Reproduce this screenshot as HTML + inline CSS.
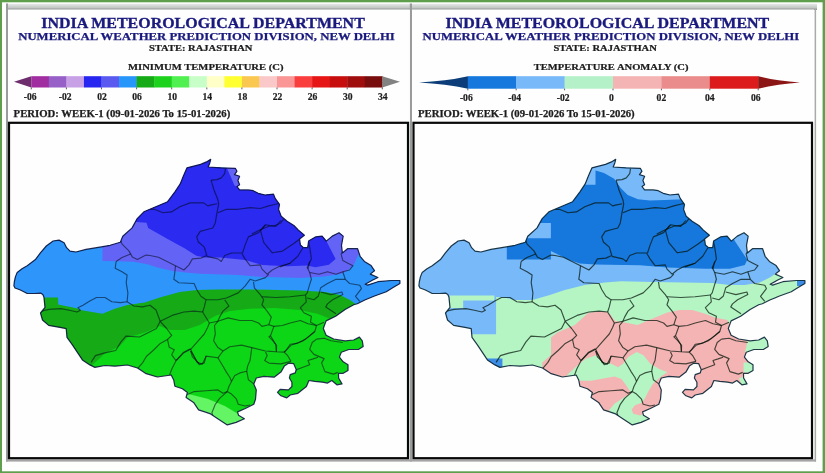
<!DOCTYPE html>
<html><head><meta charset="utf-8"><title>IMD Rajasthan</title>
<style>
html,body{margin:0;padding:0;background:#fff;}
body{width:825px;height:473px;overflow:hidden;font-family:"Liberation Serif",serif;}
svg{display:block;}
text{font-family:"Liberation Serif",serif;font-weight:bold;}
.t1{font-size:13.6px;fill:#1a1a7e;stroke:#1a1a7e;stroke-width:0.3px;}
.t2{font-size:10.6px;fill:#1a1a7e;stroke:#1a1a7e;stroke-width:0.25px;}
.t3{font-size:9.1px;fill:#1c1c1c;stroke:#1c1c1c;stroke-width:0.22px;}
.t4{font-size:9.7px;fill:#1c1c1c;stroke:#1c1c1c;stroke-width:0.25px;}
.lab{font-size:9.6px;fill:#1c1c1c;stroke:#1c1c1c;stroke-width:0.2px;}
</style></head><body>
<svg width="825" height="473" viewBox="0 0 825 473">
<defs>
<clipPath id="st"><path d="M210.7,159.3 L209.9,162.7 L208.2,167.0 L220.9,167.8 L235.3,168.3 L237.0,171.2 L234.5,174.6 L239.6,176.3 L237.9,180.5 L239.6,184.8 L237.0,186.5 L239.6,189.9 L248.1,189.9 L253.2,190.7 L258.2,193.3 L265.0,195.0 L273.5,194.1 L275.2,198.4 L279.5,204.3 L278.6,209.4 L281.2,216.2 L287.1,221.3 L293.9,225.5 L298.4,230.1 L304.4,235.2 L299.6,239.0 L300.4,245.0 L303.5,247.6 L307.7,247.6 L308.6,241.1 L315.4,236.9 L322.1,236.1 L326.3,241.1 L332.3,236.1 L339.0,232.7 L343.2,236.1 L341.5,245.4 L342.4,253.0 L347.5,248.7 L357.6,248.7 L360.1,256.3 L364.4,261.4 L371.1,265.6 L374.5,270.7 L370.3,274.1 L377.9,277.5 L372.8,280.0 L365.2,284.2 L367.7,285.1 L377.9,281.7 L391.4,280.5 L399.9,280.5 L399.9,283.4 L393.1,287.6 L386.3,291.8 L374.5,296.0 L364.8,300.0 L357.3,303.7 L353.7,304.8 L345.1,309.5 L335.6,316.2 L326.1,320.9 L323.3,328.5 L326.1,335.2 L333.7,339.0 L345.1,340.9 L353.7,340.0 L359.4,337.1 L362.3,340.9 L363.2,346.6 L358.4,349.5 L348.9,349.5 L341.3,352.3 L339.4,357.1 L343.2,361.8 L348.0,364.7 L348.0,370.4 L343.2,373.3 L338.5,373.3 L338.6,378.0 L342.0,383.9 L336.9,384.8 L331.8,380.5 L327.6,383.1 L322.5,382.2 L314.8,381.4 L308.9,380.5 L306.4,386.5 L297.9,393.3 L290.2,395.0 L286.8,397.9 L280.9,395.8 L277.5,392.4 L280.1,389.4 L288.5,389.9 L291.9,386.5 L291.9,382.2 L289.4,378.0 L290.2,374.6 L295.3,372.9 L296.2,369.5 L293.6,363.6 L288.5,363.2 L284.3,366.1 L280.9,372.1 L274.1,377.2 L263.9,376.3 L256.3,378.0 L253.8,383.9 L256.3,389.9 L255.5,399.2 L253.8,404.3 L245.3,408.5 L237.6,411.9 L238.5,415.3 L244.4,418.7 L236.1,422.4 L227.3,424.9 L217.4,418.6 L209.9,413.6 L198.6,409.9 L193.6,402.4 L186.1,397.4 L187.4,392.4 L182.4,388.7 L174.9,386.2 L173.7,380.0 L171.2,375.0 L157.4,377.0 L146.2,373.7 L137.5,368.0 L127.5,365.0 L115.0,366.2 L104.9,365.5 L94.9,367.4 L89.9,364.9 L82.4,359.9 L77.4,352.4 L72.4,344.9 L67.0,337.4 L66.2,328.6 L60.0,327.4 L48.7,325.4 L42.5,320.0 L40.5,313.0 L45.0,307.4 L43.9,296.9 L42.8,294.6 L40.6,293.1 L34.6,293.5 L27.2,293.5 L24.3,292.0 L19.8,289.8 L15.0,288.0 L13.9,285.7 L14.3,282.0 L15.4,276.9 L17.2,272.4 L22.0,268.7 L27.2,265.7 L35.4,259.6 L40.4,252.8 L46.3,246.0 L53.1,241.0 L59.0,240.1 L64.1,242.7 L66.6,247.7 L70.0,251.1 L75.9,252.0 L86.0,249.4 L101.3,246.9 L110.1,245.3 L120.3,242.2 L122.8,236.3 L132.1,227.9 L137.2,218.6 L143.9,211.8 L155.8,206.8 L167.6,201.7 L175.1,191.6 L180.2,183.9 L183.6,175.5 L187.0,167.8 L200.5,164.4 L206.5,161.9 Z"/></clipPath>
<filter id="bl" x="-5%" y="-5%" width="110%" height="110%"><feGaussianBlur stdDeviation="0.45"/></filter>
<linearGradient id="tg" x1="0" y1="0" x2="0" y2="1"><stop offset="0" stop-color="#e4e8e6"/><stop offset="0.6" stop-color="#c4c9c7"/><stop offset="1" stop-color="#8a8d8c"/></linearGradient>
</defs>
<!-- frame -->
<rect x="0" y="0" width="825" height="473" fill="#5f9e4c"/>
<rect x="2" y="2.3" width="820.6" height="469" fill="#fcfffc"/>
<rect x="6" y="3.8" width="811" height="6.2" fill="url(#tg)"/>
<rect x="6" y="3.5" width="2" height="458" fill="#9a9c9b"/>
<rect x="409.8" y="3.5" width="2.2" height="458" fill="#9a9c9b"/>
<rect x="814.6" y="9" width="1.5" height="452.5" fill="#a9aaa9"/>
<rect x="6" y="459.4" width="810" height="2.2" fill="#a4a4a4"/>
<rect x="8" y="9.5" width="401.8" height="112" fill="#fefefe"/>
<rect x="412" y="9.5" width="402" height="112" fill="#fefefe"/>
<!-- map frames -->
<rect x="9" y="122.8" width="399" height="335.4" fill="#fefefe" stroke="#080808" stroke-width="2.2"/>
<rect x="413.5" y="122.8" width="398.5" height="335.4" fill="#fefefe" stroke="#080808" stroke-width="2.2"/>
<g filter="url(#bl)">
<!-- left map -->
<g>
<g clip-path="url(#st)">
<rect x="0" y="140" width="412" height="300" fill="#10d614"/>
<polygon points="0.0,150.0 410.0,150.0 410.0,322.0 340.0,322.0 330.0,318.7 317.4,313.7 300.0,310.0 275.0,308.0 250.0,308.7 230.0,311.0 215.0,316.0 199.8,324.9 184.8,329.9 169.8,329.9 159.8,326.0 144.8,332.4 127.4,337.4 119.9,346.0 104.9,353.6 92.4,364.9 85.0,375.0 0.0,375.0" fill="#14aa14"/>
<polygon points="0.0,150.0 410.0,150.0 410.0,305.0 357.0,305.0 350.0,300.0 340.0,295.0 325.0,292.0 300.0,290.4 250.0,289.4 216.0,289.4 197.3,290.0 179.8,292.0 159.8,297.4 144.8,302.4 127.4,305.0 114.9,308.7 102.4,313.7 80.0,310.0 77.6,308.6 58.2,304.4 58.0,297.6 45.5,297.6 0.0,297.5" fill="#2d96fa"/>
<polygon points="102.4,150.0 102.4,261.0 116.9,261.2 133.8,261.7 147.3,264.2 157.5,267.6 172.7,271.0 187.9,272.7 200.0,273.7 237.5,275.0 262.4,277.0 300.0,278.0 323.8,276.6 340.7,274.1 347.5,270.7 354.2,264.0 357.6,256.3 362.0,250.0 410.0,250.0 410.0,150.0" fill="#6464f5"/>
<polygon points="130.0,150.0 130.0,222.0 136.3,222.0 146.5,222.8 148.2,227.9 167.6,238.9 184.5,248.2 196.3,255.8 204.8,257.5 220.0,257.5 245.0,260.0 262.4,265.0 287.4,266.2 306.9,265.6 315.4,267.3 328.9,264.8 335.6,258.9 331.0,250.0 326.3,241.1 324.0,232.0 324.0,150.0" fill="#2a2af0"/>
<polygon points="226.0,166.0 241.0,166.0 241.0,188.0 234.5,185.6" fill="#6464f5"/>
<polygon points="180.0,393.0 187.4,393.7 207.4,398.7 224.8,406.0 237.3,413.6 248.0,418.0 248.0,430.0 180.0,430.0" fill="#64f564"/>
<polyline fill="none" stroke="#000814" stroke-opacity="0.55" stroke-width="1.15" stroke-linejoin="round" points="225.5,168.6 224.7,173.7 221.3,177.9 217.0,179.6 211.1,180.1"/>
<polyline fill="none" stroke="#000814" stroke-opacity="0.55" stroke-width="1.15" stroke-linejoin="round" points="150.0,209.3 154.4,209.3 162.9,212.7 171.4,211.9 179.8,206.8 190.0,202.9 203.6,202.9 207.7,205.9 210.4,205.1 217.2,203.8"/>
<polyline fill="none" stroke="#000814" stroke-opacity="0.55" stroke-width="1.15" stroke-linejoin="round" points="211.1,180.1 214.0,190.0 218.0,200.0 218.7,204.2 217.0,212.7 215.3,222.9 212.8,228.0 206.0,229.7 200.2,231.4 196.7,236.9 198.4,242.0 204.3,247.1 206.8,255.5 200.9,258.1 192.4,258.9 189.0,264.9 183.9,270.0 175.5,265.7 167.0,261.5 158.5,257.2 150.0,255.5 145.9,255.1 137.4,259.4 132.3,256.9 128.9,250.9 122.1,244.1 120.5,239.9"/>
<polyline fill="none" stroke="#000814" stroke-opacity="0.55" stroke-width="1.15" stroke-linejoin="round" points="217.9,212.7 226.4,209.3 238.2,209.3 250.1,207.6 260.3,208.5 268.8,205.9 275.6,204.2 279.0,203.4"/>
<polyline fill="none" stroke="#000814" stroke-opacity="0.55" stroke-width="1.15" stroke-linejoin="round" points="251.8,233.9 260.3,229.7 268.8,226.3 275.6,225.4 280.7,222.9 284.0,218.6"/>
<polyline fill="none" stroke="#000814" stroke-opacity="0.55" stroke-width="1.15" stroke-linejoin="round" points="206.8,256.4 217.9,258.9 221.3,261.5 224.7,255.5 231.5,253.0 241.6,253.0 245.0,258.9 250.1,265.7 260.3,264.9 262.0,269.1 267.1,274.2 272.2,270.0 279.0,266.6 290.0,263.2 297.8,256.2 302.9,247.7"/>
<polyline fill="none" stroke="#000814" stroke-opacity="0.55" stroke-width="1.15" stroke-linejoin="round" points="242.5,253.0 245.0,245.4 248.4,236.9 258.6,232.6 263.7,226.7 265.5,224.8"/>
<polyline fill="none" stroke="#000814" stroke-opacity="0.55" stroke-width="1.15" stroke-linejoin="round" points="280.8,220.5 275.7,226.5 265.5,224.8 260.5,230.7 263.8,242.6 272.3,252.8 282.5,251.1 292.7,244.3 299.5,239.2"/>
<polyline fill="none" stroke="#000814" stroke-opacity="0.55" stroke-width="1.15" stroke-linejoin="round" points="175.5,265.7 174.6,274.2 173.8,279.3 178.8,282.7 194.1,283.5 196.7,289.5 200.9,296.3 206.0,299.7 204.3,306.9 202.6,312.0"/>
<polyline fill="none" stroke="#000814" stroke-opacity="0.55" stroke-width="1.15" stroke-linejoin="round" points="206.0,299.7 217.9,299.7 226.4,298.0 238.2,292.9 245.0,286.1 250.1,279.3 255.2,281.0 265.4,277.6 268.8,274.2"/>
<polyline fill="none" stroke="#000814" stroke-opacity="0.55" stroke-width="1.15" stroke-linejoin="round" points="253.5,281.8 254.4,287.8 260.3,294.6 263.7,299.7 262.0,304.8 267.1,311.1 271.3,317.1 268.8,324.7"/>
<polyline fill="none" stroke="#000814" stroke-opacity="0.55" stroke-width="1.15" stroke-linejoin="round" points="262.0,296.7 275.6,297.5 290.0,296.7 305.5,295.0"/>
<polyline fill="none" stroke="#000814" stroke-opacity="0.55" stroke-width="1.15" stroke-linejoin="round" points="224.7,299.7 228.9,306.0 223.0,311.1 219.6,317.1 217.9,321.3"/>
<polyline fill="none" stroke="#000814" stroke-opacity="0.55" stroke-width="1.15" stroke-linejoin="round" points="116.1,261.5 115.2,268.3 122.0,271.7 127.1,275.1 126.2,282.7 127.9,292.9 127.1,301.8"/>
<polyline fill="none" stroke="#000814" stroke-opacity="0.55" stroke-width="1.15" stroke-linejoin="round" points="130.6,254.0 122.0,257.5 116.1,261.5"/>
<polyline fill="none" stroke="#000814" stroke-opacity="0.55" stroke-width="1.15" stroke-linejoin="round" points="41.4,311.1 49.0,309.4 60.9,308.6 69.4,310.3 77.0,312.0 80.4,310.3 77.9,307.7 83.0,305.2 89.8,300.9 96.5,297.5 105.0,297.5 111.8,301.8 120.3,302.6 127.1,301.8 133.9,306.0 142.4,306.9 150.0,305.2 156.0,310.0 160.2,321.3"/>
<polyline fill="none" stroke="#000814" stroke-opacity="0.55" stroke-width="1.15" stroke-linejoin="round" points="160.2,321.3 156.5,328.5 148.0,332.7 139.5,337.0 125.9,336.1 120.8,342.1 115.7,350.5 103.8,353.1 95.4,355.6 91.1,362.4"/>
<polyline fill="none" stroke="#000814" stroke-opacity="0.55" stroke-width="1.15" stroke-linejoin="round" points="160.2,321.3 172.1,315.4 183.9,312.0 194.1,311.1 202.6,312.0 209.4,323.0 217.9,321.3"/>
<polyline fill="none" stroke="#000814" stroke-opacity="0.55" stroke-width="1.15" stroke-linejoin="round" points="209.4,323.0 207.7,327.2 204.3,334.0 197.5,341.7 190.7,349.3 183.9,352.7 177.2,359.5 176.0,360.7 171.7,369.2 169.2,376.0"/>
<polyline fill="none" stroke="#000814" stroke-opacity="0.55" stroke-width="1.15" stroke-linejoin="round" points="160.2,321.3 166.6,328.5 171.7,335.3 167.5,339.5 169.2,347.2 174.3,349.7 171.7,354.8 176.0,360.7"/>
<polyline fill="none" stroke="#000814" stroke-opacity="0.55" stroke-width="1.15" stroke-linejoin="round" points="167.5,339.5 159.8,343.8 153.1,350.5 146.3,356.5 142.9,362.4 137.8,368.4"/>
<polyline fill="none" stroke="#000814" stroke-opacity="0.55" stroke-width="1.15" stroke-linejoin="round" points="217.9,321.3 214.5,325.5 215.3,334.0 213.6,340.8 217.9,347.6 223.0,351.0 229.8,346.8 241.6,345.1 251.8,347.6 265.4,351.0 275.6,351.8 284.2,352.1 287.6,355.5 291.0,361.4"/>
<polyline fill="none" stroke="#000814" stroke-opacity="0.55" stroke-width="1.15" stroke-linejoin="round" points="223.0,351.0 217.9,357.8 206.0,356.1 204.3,362.9 199.2,364.6 195.8,359.5 190.7,351.0"/>
<polyline fill="none" stroke="#000814" stroke-opacity="0.55" stroke-width="1.15" stroke-linejoin="round" points="217.9,357.8 223.0,366.3 226.4,372.1 229.8,377.2 231.5,381.4 228.9,386.5 227.2,391.6 231.5,394.1 236.5,399.2 238.2,404.3 245.0,406.0 250.0,405.0"/>
<polyline fill="none" stroke="#000814" stroke-opacity="0.55" stroke-width="1.15" stroke-linejoin="round" points="217.9,321.3 228.1,317.9 239.9,320.5 251.8,320.5 258.6,323.0 262.0,326.4 268.8,324.7 273.9,326.4 282.4,325.5 290.2,323.0 300.4,320.5 308.0,323.8 316.5,325.5 324.1,322.2"/>
<polyline fill="none" stroke="#000814" stroke-opacity="0.55" stroke-width="1.15" stroke-linejoin="round" points="273.9,326.4 270.5,335.7 275.6,344.2 276.4,351.8"/>
<polyline fill="none" stroke="#000814" stroke-opacity="0.55" stroke-width="1.15" stroke-linejoin="round" points="308.0,239.4 309.7,247.1 311.4,258.9 307.2,267.4 309.7,272.5 311.4,279.3 309.7,284.4 307.2,292.9 305.5,295.0 306.3,301.8 300.4,307.7 303.8,312.8 311.4,316.2 310.5,322.2 316.5,325.5"/>
<polyline fill="none" stroke="#000814" stroke-opacity="0.55" stroke-width="1.15" stroke-linejoin="round" points="309.7,272.5 319.0,274.2 327.5,271.7 336.0,274.2 342.8,271.7 349.6,270.0 353.0,265.7 347.9,263.2 342.8,260.6 341.1,253.8 343.6,250.5"/>
<polyline fill="none" stroke="#000814" stroke-opacity="0.55" stroke-width="1.15" stroke-linejoin="round" points="342.8,271.7 345.3,279.3 349.6,283.5 359.8,285.2 361.4,288.6 355.5,296.3 359.8,301.4"/>
<polyline fill="none" stroke="#000814" stroke-opacity="0.55" stroke-width="1.15" stroke-linejoin="round" points="345.3,279.3 336.0,279.3 327.5,283.5 320.7,287.8 318.2,296.3 313.9,299.7 307.2,298.0"/>
<polyline fill="none" stroke="#000814" stroke-opacity="0.55" stroke-width="1.15" stroke-linejoin="round" points="320.7,292.0 330.9,294.6 341.9,292.0 342.8,294.6 332.6,299.7 327.5,303.9 325.8,306.9 336.0,313.7"/>
<polyline fill="none" stroke="#000814" stroke-opacity="0.55" stroke-width="1.15" stroke-linejoin="round" points="316.5,325.5 314.8,331.5 305.5,339.1 297.0,343.4 290.2,344.2 286.8,349.3 284.2,352.1"/>
<polyline fill="none" stroke="#000814" stroke-opacity="0.55" stroke-width="1.15" stroke-linejoin="round" points="316.5,339.1 312.2,342.5 309.7,349.3 313.9,354.4 324.1,358.6 321.6,362.9 324.9,371.6 333.4,374.1 337.7,372.4"/>
<polyline fill="none" stroke="#000814" stroke-opacity="0.55" stroke-width="1.15" stroke-linejoin="round" points="316.5,339.1 324.1,338.3 330.9,340.8 342.8,342.5"/>
<polyline fill="none" stroke="#000814" stroke-opacity="0.55" stroke-width="1.15" stroke-linejoin="round" points="318.1,357.2 313.1,358.9 308.0,360.5 309.7,364.8 302.9,367.3 296.1,369.9"/>
<polyline fill="none" stroke="#000814" stroke-opacity="0.55" stroke-width="1.15" stroke-linejoin="round" points="291.0,361.4 280.8,363.9 268.9,363.1 264.7,360.5 267.2,355.5 265.5,352.1"/>
<polyline fill="none" stroke="#000814" stroke-opacity="0.55" stroke-width="1.15" stroke-linejoin="round" points="276.4,351.8 276.6,345.3 272.3,340.2 268.9,336.8 270.5,335.7"/>
<polyline fill="none" stroke="#000814" stroke-opacity="0.55" stroke-width="1.15" stroke-linejoin="round" points="284.2,352.1 291.0,345.3 302.9,341.0 309.7,335.9 314.8,331.5"/>
<polyline fill="none" stroke="#000814" stroke-opacity="0.55" stroke-width="1.15" stroke-linejoin="round" points="190.7,351.0 192.4,356.8 199.2,363.6"/>
<polyline fill="none" stroke="#000814" stroke-opacity="0.55" stroke-width="1.15" stroke-linejoin="round" points="231.5,381.4 234.8,375.5 239.9,372.9 246.7,371.2 247.6,366.1 250.1,360.2 251.8,347.6"/>
<polyline fill="none" stroke="#000814" stroke-opacity="0.55" stroke-width="1.15" stroke-linejoin="round" points="246.7,371.2 248.4,379.7 253.8,383.9"/>
<polyline fill="none" stroke="#000814" stroke-opacity="0.55" stroke-width="1.15" stroke-linejoin="round" points="186.5,395.0 194.1,391.6 206.0,390.7 217.9,389.9 223.0,393.3 227.2,391.6"/>
<polyline fill="none" stroke="#000814" stroke-opacity="0.55" stroke-width="1.15" stroke-linejoin="round" points="227.2,391.6 219.6,398.4 215.3,404.3 211.9,412.8 213.0,416.0"/>
<polyline fill="none" stroke="#000814" stroke-opacity="0.55" stroke-width="1.15" stroke-linejoin="round" points="176.0,360.7 183.6,352.2 190.4,348.8"/>
<polyline fill="none" stroke="#000814" stroke-opacity="0.55" stroke-width="1.15" stroke-linejoin="round" points="190.4,349.0 197.2,362.4 202.3,364.1 205.7,357.3 206.0,356.1"/>
<polyline fill="none" stroke="#000814" stroke-opacity="0.55" stroke-width="1.15" stroke-linejoin="round" points="280.0,267.0 290.2,263.2"/>
<polyline fill="none" stroke="#000814" stroke-opacity="0.55" stroke-width="1.15" stroke-linejoin="round" points="308.0,245.4 303.8,247.1"/>
<polyline fill="none" stroke="#000814" stroke-opacity="0.55" stroke-width="1.15" stroke-linejoin="round" points="309.7,261.3 308.0,268.9"/>
</g>
<path d="M210.7,159.3 L209.9,162.7 L208.2,167.0 L220.9,167.8 L235.3,168.3 L237.0,171.2 L234.5,174.6 L239.6,176.3 L237.9,180.5 L239.6,184.8 L237.0,186.5 L239.6,189.9 L248.1,189.9 L253.2,190.7 L258.2,193.3 L265.0,195.0 L273.5,194.1 L275.2,198.4 L279.5,204.3 L278.6,209.4 L281.2,216.2 L287.1,221.3 L293.9,225.5 L298.4,230.1 L304.4,235.2 L299.6,239.0 L300.4,245.0 L303.5,247.6 L307.7,247.6 L308.6,241.1 L315.4,236.9 L322.1,236.1 L326.3,241.1 L332.3,236.1 L339.0,232.7 L343.2,236.1 L341.5,245.4 L342.4,253.0 L347.5,248.7 L357.6,248.7 L360.1,256.3 L364.4,261.4 L371.1,265.6 L374.5,270.7 L370.3,274.1 L377.9,277.5 L372.8,280.0 L365.2,284.2 L367.7,285.1 L377.9,281.7 L391.4,280.5 L399.9,280.5 L399.9,283.4 L393.1,287.6 L386.3,291.8 L374.5,296.0 L364.8,300.0 L357.3,303.7 L353.7,304.8 L345.1,309.5 L335.6,316.2 L326.1,320.9 L323.3,328.5 L326.1,335.2 L333.7,339.0 L345.1,340.9 L353.7,340.0 L359.4,337.1 L362.3,340.9 L363.2,346.6 L358.4,349.5 L348.9,349.5 L341.3,352.3 L339.4,357.1 L343.2,361.8 L348.0,364.7 L348.0,370.4 L343.2,373.3 L338.5,373.3 L338.6,378.0 L342.0,383.9 L336.9,384.8 L331.8,380.5 L327.6,383.1 L322.5,382.2 L314.8,381.4 L308.9,380.5 L306.4,386.5 L297.9,393.3 L290.2,395.0 L286.8,397.9 L280.9,395.8 L277.5,392.4 L280.1,389.4 L288.5,389.9 L291.9,386.5 L291.9,382.2 L289.4,378.0 L290.2,374.6 L295.3,372.9 L296.2,369.5 L293.6,363.6 L288.5,363.2 L284.3,366.1 L280.9,372.1 L274.1,377.2 L263.9,376.3 L256.3,378.0 L253.8,383.9 L256.3,389.9 L255.5,399.2 L253.8,404.3 L245.3,408.5 L237.6,411.9 L238.5,415.3 L244.4,418.7 L236.1,422.4 L227.3,424.9 L217.4,418.6 L209.9,413.6 L198.6,409.9 L193.6,402.4 L186.1,397.4 L187.4,392.4 L182.4,388.7 L174.9,386.2 L173.7,380.0 L171.2,375.0 L157.4,377.0 L146.2,373.7 L137.5,368.0 L127.5,365.0 L115.0,366.2 L104.9,365.5 L94.9,367.4 L89.9,364.9 L82.4,359.9 L77.4,352.4 L72.4,344.9 L67.0,337.4 L66.2,328.6 L60.0,327.4 L48.7,325.4 L42.5,320.0 L40.5,313.0 L45.0,307.4 L43.9,296.9 L42.8,294.6 L40.6,293.1 L34.6,293.5 L27.2,293.5 L24.3,292.0 L19.8,289.8 L15.0,288.0 L13.9,285.7 L14.3,282.0 L15.4,276.9 L17.2,272.4 L22.0,268.7 L27.2,265.7 L35.4,259.6 L40.4,252.8 L46.3,246.0 L53.1,241.0 L59.0,240.1 L64.1,242.7 L66.6,247.7 L70.0,251.1 L75.9,252.0 L86.0,249.4 L101.3,246.9 L110.1,245.3 L120.3,242.2 L122.8,236.3 L132.1,227.9 L137.2,218.6 L143.9,211.8 L155.8,206.8 L167.6,201.7 L175.1,191.6 L180.2,183.9 L183.6,175.5 L187.0,167.8 L200.5,164.4 L206.5,161.9 Z" fill="none" stroke="#0a0c40" stroke-opacity="0.85" stroke-width="1.2" stroke-linejoin="round"/>
</g>
<!-- right map -->
<g transform="translate(405 0)">
<g clip-path="url(#st)">
<rect x="0" y="140" width="412" height="300" fill="#b4f5c3"/>
<polygon points="137.3,440.0 137.3,362.4 146.0,354.9 146.0,337.4 152.3,332.4 169.8,324.9 182.3,313.7 184.8,312.4 199.8,311.2 205.0,314.0 210.0,321.0 220.0,322.4 232.5,324.9 250.0,317.4 262.4,312.4 274.9,310.0 287.4,310.0 299.9,313.7 309.9,317.4 322.3,319.9 324.8,325.0 335.0,325.0 342.3,342.4 340.0,352.0 352.0,358.0 352.0,440.0" fill="#f5b4b4"/>
<polygon points="163.0,373.9 172.3,365.5 180.8,358.7 191.0,355.3 197.8,362.1 206.3,363.8 213.1,367.2 218.1,363.8 223.2,357.0 231.7,351.9 238.5,355.3 245.3,363.8 253.8,368.8 262.3,372.2 257.2,375.6 252.1,379.9 247.8,384.1 243.6,390.9 240.2,397.7 236.8,402.8 230.0,405.3 226.6,409.6 228.3,413.8 235.1,415.5 240.2,413.0 248.0,416.0 248.0,430.0 200.0,430.0 204.6,409.6 209.7,403.6 214.8,400.2 219.8,396.8 226.6,393.5 224.9,390.9 221.5,385.8 216.5,379.0 209.7,376.5 199.5,378.2 185.9,380.7 174.0,380.7 160.0,378.0" fill="#b4f5c3"/>
<polygon points="338.6,362.4 350.0,362.4 350.0,372.4 338.6,372.4" fill="#b4f5c3"/>
<polygon points="334.0,378.0 345.0,376.0 345.0,388.0 337.0,386.0" fill="#b4f5c3"/>
<polygon points="0.0,150.0 410.0,150.0 410.0,272.0 372.3,272.5 364.8,277.5 354.8,282.5 339.8,285.0 324.8,285.0 307.4,283.0 250.0,282.0 216.0,281.2 199.8,282.5 179.8,285.0 159.8,290.0 144.8,295.0 127.4,300.0 109.9,300.0 101.3,297.9 91.1,297.0 91.1,334.2 0.0,334.2" fill="#78b9fa"/>
<polygon points="44.6,295.4 89.4,295.4 89.4,300.4 58.2,300.4 58.2,308.0 44.6,308.0" fill="#b4f5c3"/>
<polygon points="101.8,150.0 101.8,259.4 145.9,259.4 145.9,250.9 162.9,259.4 174.8,263.6 190.0,264.5 235.0,265.3 262.4,267.5 299.9,268.7 324.8,268.7 339.8,265.0 342.3,259.8 329.8,241.0 325.0,232.0 325.0,150.0" fill="#1478dc"/>
<polygon points="160.0,184.8 190.5,184.8 190.5,170.4 199.0,172.9 209.1,178.8 215.9,188.2 222.7,195.0 232.9,199.2 244.8,200.6 260.0,200.0 271.9,199.5 285.0,199.0 285.0,150.0 160.0,150.0" fill="#78b9fa"/>
<polygon points="120.0,222.9 145.9,222.9 145.9,238.2 120.0,238.2" fill="#78b9fa"/>
<polygon points="81.0,358.6 97.4,358.6 97.4,368.0 81.0,368.0" fill="#3c8ce6"/>
<polygon points="392.0,278.0 402.0,278.0 402.0,286.0 392.0,286.0" fill="#3c8ce6"/>
<polyline fill="none" stroke="#04140a" stroke-opacity="0.72" stroke-width="1.15" stroke-linejoin="round" points="225.5,168.6 224.7,173.7 221.3,177.9 217.0,179.6 211.1,180.1"/>
<polyline fill="none" stroke="#04140a" stroke-opacity="0.72" stroke-width="1.15" stroke-linejoin="round" points="150.0,209.3 154.4,209.3 162.9,212.7 171.4,211.9 179.8,206.8 190.0,202.9 203.6,202.9 207.7,205.9 210.4,205.1 217.2,203.8"/>
<polyline fill="none" stroke="#04140a" stroke-opacity="0.72" stroke-width="1.15" stroke-linejoin="round" points="211.1,180.1 214.0,190.0 218.0,200.0 218.7,204.2 217.0,212.7 215.3,222.9 212.8,228.0 206.0,229.7 200.2,231.4 196.7,236.9 198.4,242.0 204.3,247.1 206.8,255.5 200.9,258.1 192.4,258.9 189.0,264.9 183.9,270.0 175.5,265.7 167.0,261.5 158.5,257.2 150.0,255.5 145.9,255.1 137.4,259.4 132.3,256.9 128.9,250.9 122.1,244.1 120.5,239.9"/>
<polyline fill="none" stroke="#04140a" stroke-opacity="0.72" stroke-width="1.15" stroke-linejoin="round" points="217.9,212.7 226.4,209.3 238.2,209.3 250.1,207.6 260.3,208.5 268.8,205.9 275.6,204.2 279.0,203.4"/>
<polyline fill="none" stroke="#04140a" stroke-opacity="0.72" stroke-width="1.15" stroke-linejoin="round" points="251.8,233.9 260.3,229.7 268.8,226.3 275.6,225.4 280.7,222.9 284.0,218.6"/>
<polyline fill="none" stroke="#04140a" stroke-opacity="0.72" stroke-width="1.15" stroke-linejoin="round" points="206.8,256.4 217.9,258.9 221.3,261.5 224.7,255.5 231.5,253.0 241.6,253.0 245.0,258.9 250.1,265.7 260.3,264.9 262.0,269.1 267.1,274.2 272.2,270.0 279.0,266.6 290.0,263.2 297.8,256.2 302.9,247.7"/>
<polyline fill="none" stroke="#04140a" stroke-opacity="0.72" stroke-width="1.15" stroke-linejoin="round" points="242.5,253.0 245.0,245.4 248.4,236.9 258.6,232.6 263.7,226.7 265.5,224.8"/>
<polyline fill="none" stroke="#04140a" stroke-opacity="0.72" stroke-width="1.15" stroke-linejoin="round" points="280.8,220.5 275.7,226.5 265.5,224.8 260.5,230.7 263.8,242.6 272.3,252.8 282.5,251.1 292.7,244.3 299.5,239.2"/>
<polyline fill="none" stroke="#04140a" stroke-opacity="0.72" stroke-width="1.15" stroke-linejoin="round" points="175.5,265.7 174.6,274.2 173.8,279.3 178.8,282.7 194.1,283.5 196.7,289.5 200.9,296.3 206.0,299.7 204.3,306.9 202.6,312.0"/>
<polyline fill="none" stroke="#04140a" stroke-opacity="0.72" stroke-width="1.15" stroke-linejoin="round" points="206.0,299.7 217.9,299.7 226.4,298.0 238.2,292.9 245.0,286.1 250.1,279.3 255.2,281.0 265.4,277.6 268.8,274.2"/>
<polyline fill="none" stroke="#04140a" stroke-opacity="0.72" stroke-width="1.15" stroke-linejoin="round" points="253.5,281.8 254.4,287.8 260.3,294.6 263.7,299.7 262.0,304.8 267.1,311.1 271.3,317.1 268.8,324.7"/>
<polyline fill="none" stroke="#04140a" stroke-opacity="0.72" stroke-width="1.15" stroke-linejoin="round" points="262.0,296.7 275.6,297.5 290.0,296.7 305.5,295.0"/>
<polyline fill="none" stroke="#04140a" stroke-opacity="0.72" stroke-width="1.15" stroke-linejoin="round" points="224.7,299.7 228.9,306.0 223.0,311.1 219.6,317.1 217.9,321.3"/>
<polyline fill="none" stroke="#04140a" stroke-opacity="0.72" stroke-width="1.15" stroke-linejoin="round" points="116.1,261.5 115.2,268.3 122.0,271.7 127.1,275.1 126.2,282.7 127.9,292.9 127.1,301.8"/>
<polyline fill="none" stroke="#04140a" stroke-opacity="0.72" stroke-width="1.15" stroke-linejoin="round" points="130.6,254.0 122.0,257.5 116.1,261.5"/>
<polyline fill="none" stroke="#04140a" stroke-opacity="0.72" stroke-width="1.15" stroke-linejoin="round" points="41.4,311.1 49.0,309.4 60.9,308.6 69.4,310.3 77.0,312.0 80.4,310.3 77.9,307.7 83.0,305.2 89.8,300.9 96.5,297.5 105.0,297.5 111.8,301.8 120.3,302.6 127.1,301.8 133.9,306.0 142.4,306.9 150.0,305.2 156.0,310.0 160.2,321.3"/>
<polyline fill="none" stroke="#04140a" stroke-opacity="0.72" stroke-width="1.15" stroke-linejoin="round" points="160.2,321.3 156.5,328.5 148.0,332.7 139.5,337.0 125.9,336.1 120.8,342.1 115.7,350.5 103.8,353.1 95.4,355.6 91.1,362.4"/>
<polyline fill="none" stroke="#04140a" stroke-opacity="0.72" stroke-width="1.15" stroke-linejoin="round" points="160.2,321.3 172.1,315.4 183.9,312.0 194.1,311.1 202.6,312.0 209.4,323.0 217.9,321.3"/>
<polyline fill="none" stroke="#04140a" stroke-opacity="0.72" stroke-width="1.15" stroke-linejoin="round" points="209.4,323.0 207.7,327.2 204.3,334.0 197.5,341.7 190.7,349.3 183.9,352.7 177.2,359.5 176.0,360.7 171.7,369.2 169.2,376.0"/>
<polyline fill="none" stroke="#04140a" stroke-opacity="0.72" stroke-width="1.15" stroke-linejoin="round" points="160.2,321.3 166.6,328.5 171.7,335.3 167.5,339.5 169.2,347.2 174.3,349.7 171.7,354.8 176.0,360.7"/>
<polyline fill="none" stroke="#04140a" stroke-opacity="0.72" stroke-width="1.15" stroke-linejoin="round" points="167.5,339.5 159.8,343.8 153.1,350.5 146.3,356.5 142.9,362.4 137.8,368.4"/>
<polyline fill="none" stroke="#04140a" stroke-opacity="0.72" stroke-width="1.15" stroke-linejoin="round" points="217.9,321.3 214.5,325.5 215.3,334.0 213.6,340.8 217.9,347.6 223.0,351.0 229.8,346.8 241.6,345.1 251.8,347.6 265.4,351.0 275.6,351.8 284.2,352.1 287.6,355.5 291.0,361.4"/>
<polyline fill="none" stroke="#04140a" stroke-opacity="0.72" stroke-width="1.15" stroke-linejoin="round" points="223.0,351.0 217.9,357.8 206.0,356.1 204.3,362.9 199.2,364.6 195.8,359.5 190.7,351.0"/>
<polyline fill="none" stroke="#04140a" stroke-opacity="0.72" stroke-width="1.15" stroke-linejoin="round" points="217.9,357.8 223.0,366.3 226.4,372.1 229.8,377.2 231.5,381.4 228.9,386.5 227.2,391.6 231.5,394.1 236.5,399.2 238.2,404.3 245.0,406.0 250.0,405.0"/>
<polyline fill="none" stroke="#04140a" stroke-opacity="0.72" stroke-width="1.15" stroke-linejoin="round" points="217.9,321.3 228.1,317.9 239.9,320.5 251.8,320.5 258.6,323.0 262.0,326.4 268.8,324.7 273.9,326.4 282.4,325.5 290.2,323.0 300.4,320.5 308.0,323.8 316.5,325.5 324.1,322.2"/>
<polyline fill="none" stroke="#04140a" stroke-opacity="0.72" stroke-width="1.15" stroke-linejoin="round" points="273.9,326.4 270.5,335.7 275.6,344.2 276.4,351.8"/>
<polyline fill="none" stroke="#04140a" stroke-opacity="0.72" stroke-width="1.15" stroke-linejoin="round" points="308.0,239.4 309.7,247.1 311.4,258.9 307.2,267.4 309.7,272.5 311.4,279.3 309.7,284.4 307.2,292.9 305.5,295.0 306.3,301.8 300.4,307.7 303.8,312.8 311.4,316.2 310.5,322.2 316.5,325.5"/>
<polyline fill="none" stroke="#04140a" stroke-opacity="0.72" stroke-width="1.15" stroke-linejoin="round" points="309.7,272.5 319.0,274.2 327.5,271.7 336.0,274.2 342.8,271.7 349.6,270.0 353.0,265.7 347.9,263.2 342.8,260.6 341.1,253.8 343.6,250.5"/>
<polyline fill="none" stroke="#04140a" stroke-opacity="0.72" stroke-width="1.15" stroke-linejoin="round" points="342.8,271.7 345.3,279.3 349.6,283.5 359.8,285.2 361.4,288.6 355.5,296.3 359.8,301.4"/>
<polyline fill="none" stroke="#04140a" stroke-opacity="0.72" stroke-width="1.15" stroke-linejoin="round" points="345.3,279.3 336.0,279.3 327.5,283.5 320.7,287.8 318.2,296.3 313.9,299.7 307.2,298.0"/>
<polyline fill="none" stroke="#04140a" stroke-opacity="0.72" stroke-width="1.15" stroke-linejoin="round" points="320.7,292.0 330.9,294.6 341.9,292.0 342.8,294.6 332.6,299.7 327.5,303.9 325.8,306.9 336.0,313.7"/>
<polyline fill="none" stroke="#04140a" stroke-opacity="0.72" stroke-width="1.15" stroke-linejoin="round" points="316.5,325.5 314.8,331.5 305.5,339.1 297.0,343.4 290.2,344.2 286.8,349.3 284.2,352.1"/>
<polyline fill="none" stroke="#04140a" stroke-opacity="0.72" stroke-width="1.15" stroke-linejoin="round" points="316.5,339.1 312.2,342.5 309.7,349.3 313.9,354.4 324.1,358.6 321.6,362.9 324.9,371.6 333.4,374.1 337.7,372.4"/>
<polyline fill="none" stroke="#04140a" stroke-opacity="0.72" stroke-width="1.15" stroke-linejoin="round" points="316.5,339.1 324.1,338.3 330.9,340.8 342.8,342.5"/>
<polyline fill="none" stroke="#04140a" stroke-opacity="0.72" stroke-width="1.15" stroke-linejoin="round" points="318.1,357.2 313.1,358.9 308.0,360.5 309.7,364.8 302.9,367.3 296.1,369.9"/>
<polyline fill="none" stroke="#04140a" stroke-opacity="0.72" stroke-width="1.15" stroke-linejoin="round" points="291.0,361.4 280.8,363.9 268.9,363.1 264.7,360.5 267.2,355.5 265.5,352.1"/>
<polyline fill="none" stroke="#04140a" stroke-opacity="0.72" stroke-width="1.15" stroke-linejoin="round" points="276.4,351.8 276.6,345.3 272.3,340.2 268.9,336.8 270.5,335.7"/>
<polyline fill="none" stroke="#04140a" stroke-opacity="0.72" stroke-width="1.15" stroke-linejoin="round" points="284.2,352.1 291.0,345.3 302.9,341.0 309.7,335.9 314.8,331.5"/>
<polyline fill="none" stroke="#04140a" stroke-opacity="0.72" stroke-width="1.15" stroke-linejoin="round" points="190.7,351.0 192.4,356.8 199.2,363.6"/>
<polyline fill="none" stroke="#04140a" stroke-opacity="0.72" stroke-width="1.15" stroke-linejoin="round" points="231.5,381.4 234.8,375.5 239.9,372.9 246.7,371.2 247.6,366.1 250.1,360.2 251.8,347.6"/>
<polyline fill="none" stroke="#04140a" stroke-opacity="0.72" stroke-width="1.15" stroke-linejoin="round" points="246.7,371.2 248.4,379.7 253.8,383.9"/>
<polyline fill="none" stroke="#04140a" stroke-opacity="0.72" stroke-width="1.15" stroke-linejoin="round" points="186.5,395.0 194.1,391.6 206.0,390.7 217.9,389.9 223.0,393.3 227.2,391.6"/>
<polyline fill="none" stroke="#04140a" stroke-opacity="0.72" stroke-width="1.15" stroke-linejoin="round" points="227.2,391.6 219.6,398.4 215.3,404.3 211.9,412.8 213.0,416.0"/>
<polyline fill="none" stroke="#04140a" stroke-opacity="0.72" stroke-width="1.15" stroke-linejoin="round" points="176.0,360.7 183.6,352.2 190.4,348.8"/>
<polyline fill="none" stroke="#04140a" stroke-opacity="0.72" stroke-width="1.15" stroke-linejoin="round" points="190.4,349.0 197.2,362.4 202.3,364.1 205.7,357.3 206.0,356.1"/>
<polyline fill="none" stroke="#04140a" stroke-opacity="0.72" stroke-width="1.15" stroke-linejoin="round" points="280.0,267.0 290.2,263.2"/>
<polyline fill="none" stroke="#04140a" stroke-opacity="0.72" stroke-width="1.15" stroke-linejoin="round" points="308.0,245.4 303.8,247.1"/>
<polyline fill="none" stroke="#04140a" stroke-opacity="0.72" stroke-width="1.15" stroke-linejoin="round" points="309.7,261.3 308.0,268.9"/>
</g>
<path d="M210.7,159.3 L209.9,162.7 L208.2,167.0 L220.9,167.8 L235.3,168.3 L237.0,171.2 L234.5,174.6 L239.6,176.3 L237.9,180.5 L239.6,184.8 L237.0,186.5 L239.6,189.9 L248.1,189.9 L253.2,190.7 L258.2,193.3 L265.0,195.0 L273.5,194.1 L275.2,198.4 L279.5,204.3 L278.6,209.4 L281.2,216.2 L287.1,221.3 L293.9,225.5 L298.4,230.1 L304.4,235.2 L299.6,239.0 L300.4,245.0 L303.5,247.6 L307.7,247.6 L308.6,241.1 L315.4,236.9 L322.1,236.1 L326.3,241.1 L332.3,236.1 L339.0,232.7 L343.2,236.1 L341.5,245.4 L342.4,253.0 L347.5,248.7 L357.6,248.7 L360.1,256.3 L364.4,261.4 L371.1,265.6 L374.5,270.7 L370.3,274.1 L377.9,277.5 L372.8,280.0 L365.2,284.2 L367.7,285.1 L377.9,281.7 L391.4,280.5 L399.9,280.5 L399.9,283.4 L393.1,287.6 L386.3,291.8 L374.5,296.0 L364.8,300.0 L357.3,303.7 L353.7,304.8 L345.1,309.5 L335.6,316.2 L326.1,320.9 L323.3,328.5 L326.1,335.2 L333.7,339.0 L345.1,340.9 L353.7,340.0 L359.4,337.1 L362.3,340.9 L363.2,346.6 L358.4,349.5 L348.9,349.5 L341.3,352.3 L339.4,357.1 L343.2,361.8 L348.0,364.7 L348.0,370.4 L343.2,373.3 L338.5,373.3 L338.6,378.0 L342.0,383.9 L336.9,384.8 L331.8,380.5 L327.6,383.1 L322.5,382.2 L314.8,381.4 L308.9,380.5 L306.4,386.5 L297.9,393.3 L290.2,395.0 L286.8,397.9 L280.9,395.8 L277.5,392.4 L280.1,389.4 L288.5,389.9 L291.9,386.5 L291.9,382.2 L289.4,378.0 L290.2,374.6 L295.3,372.9 L296.2,369.5 L293.6,363.6 L288.5,363.2 L284.3,366.1 L280.9,372.1 L274.1,377.2 L263.9,376.3 L256.3,378.0 L253.8,383.9 L256.3,389.9 L255.5,399.2 L253.8,404.3 L245.3,408.5 L237.6,411.9 L238.5,415.3 L244.4,418.7 L236.1,422.4 L227.3,424.9 L217.4,418.6 L209.9,413.6 L198.6,409.9 L193.6,402.4 L186.1,397.4 L187.4,392.4 L182.4,388.7 L174.9,386.2 L173.7,380.0 L171.2,375.0 L157.4,377.0 L146.2,373.7 L137.5,368.0 L127.5,365.0 L115.0,366.2 L104.9,365.5 L94.9,367.4 L89.9,364.9 L82.4,359.9 L77.4,352.4 L72.4,344.9 L67.0,337.4 L66.2,328.6 L60.0,327.4 L48.7,325.4 L42.5,320.0 L40.5,313.0 L45.0,307.4 L43.9,296.9 L42.8,294.6 L40.6,293.1 L34.6,293.5 L27.2,293.5 L24.3,292.0 L19.8,289.8 L15.0,288.0 L13.9,285.7 L14.3,282.0 L15.4,276.9 L17.2,272.4 L22.0,268.7 L27.2,265.7 L35.4,259.6 L40.4,252.8 L46.3,246.0 L53.1,241.0 L59.0,240.1 L64.1,242.7 L66.6,247.7 L70.0,251.1 L75.9,252.0 L86.0,249.4 L101.3,246.9 L110.1,245.3 L120.3,242.2 L122.8,236.3 L132.1,227.9 L137.2,218.6 L143.9,211.8 L155.8,206.8 L167.6,201.7 L175.1,191.6 L180.2,183.9 L183.6,175.5 L187.0,167.8 L200.5,164.4 L206.5,161.9 Z" fill="none" stroke="#0a2436" stroke-opacity="0.9" stroke-width="1.2" stroke-linejoin="round"/>
</g>
<!-- bars -->
<polygon points="14,81.8 31.3,76.2 31.3,87.5" fill="#6e2d6e"/>
<rect x="31.30" y="76.2" width="17.85" height="11.3" fill="#a02da0"/>
<rect x="48.85" y="76.2" width="17.85" height="11.3" fill="#9660c8"/>
<rect x="66.40" y="76.2" width="17.85" height="11.3" fill="#c8a0e6"/>
<rect x="83.95" y="76.2" width="17.85" height="11.3" fill="#2828f0"/>
<rect x="101.50" y="76.2" width="17.85" height="11.3" fill="#5a5af0"/>
<rect x="119.05" y="76.2" width="17.85" height="11.3" fill="#2896fa"/>
<rect x="136.60" y="76.2" width="17.85" height="11.3" fill="#14aa14"/>
<rect x="154.15" y="76.2" width="17.85" height="11.3" fill="#1ed21e"/>
<rect x="171.70" y="76.2" width="17.85" height="11.3" fill="#50f050"/>
<rect x="189.25" y="76.2" width="17.85" height="11.3" fill="#c8ffc8"/>
<rect x="206.80" y="76.2" width="17.85" height="11.3" fill="#ffffc8"/>
<rect x="224.35" y="76.2" width="17.85" height="11.3" fill="#ffff32"/>
<rect x="241.90" y="76.2" width="17.85" height="11.3" fill="#fac850"/>
<rect x="259.45" y="76.2" width="17.85" height="11.3" fill="#fac8c8"/>
<rect x="277.00" y="76.2" width="17.85" height="11.3" fill="#fa9696"/>
<rect x="294.55" y="76.2" width="17.85" height="11.3" fill="#fa3c3c"/>
<rect x="312.10" y="76.2" width="17.85" height="11.3" fill="#e61414"/>
<rect x="329.65" y="76.2" width="17.85" height="11.3" fill="#c80a0a"/>
<rect x="347.20" y="76.2" width="17.85" height="11.3" fill="#a00a0a"/>
<rect x="364.75" y="76.2" width="17.85" height="11.3" fill="#780a0a"/>
<polygon points="382.3,76.2 382.3,87.5 400,81.8" fill="#828282"/>
<line x1="31.3" y1="87.5" x2="31.3" y2="89.3" stroke="#333" stroke-width="0.8"/>
<text x="30.1" y="99.5" class="lab" text-anchor="middle">-06</text>
<line x1="66.4" y1="87.5" x2="66.4" y2="89.3" stroke="#333" stroke-width="0.8"/>
<text x="65.2" y="99.5" class="lab" text-anchor="middle">-02</text>
<line x1="101.5" y1="87.5" x2="101.5" y2="89.3" stroke="#333" stroke-width="0.8"/>
<text x="102.0" y="99.5" class="lab" text-anchor="middle">02</text>
<line x1="136.6" y1="87.5" x2="136.6" y2="89.3" stroke="#333" stroke-width="0.8"/>
<text x="137.1" y="99.5" class="lab" text-anchor="middle">06</text>
<line x1="171.7" y1="87.5" x2="171.7" y2="89.3" stroke="#333" stroke-width="0.8"/>
<text x="172.2" y="99.5" class="lab" text-anchor="middle">10</text>
<line x1="206.8" y1="87.5" x2="206.8" y2="89.3" stroke="#333" stroke-width="0.8"/>
<text x="207.3" y="99.5" class="lab" text-anchor="middle">14</text>
<line x1="241.9" y1="87.5" x2="241.9" y2="89.3" stroke="#333" stroke-width="0.8"/>
<text x="242.4" y="99.5" class="lab" text-anchor="middle">18</text>
<line x1="277.0" y1="87.5" x2="277.0" y2="89.3" stroke="#333" stroke-width="0.8"/>
<text x="277.5" y="99.5" class="lab" text-anchor="middle">22</text>
<line x1="312.1" y1="87.5" x2="312.1" y2="89.3" stroke="#333" stroke-width="0.8"/>
<text x="312.6" y="99.5" class="lab" text-anchor="middle">26</text>
<line x1="347.2" y1="87.5" x2="347.2" y2="89.3" stroke="#333" stroke-width="0.8"/>
<text x="347.7" y="99.5" class="lab" text-anchor="middle">30</text>
<line x1="382.3" y1="87.5" x2="382.3" y2="89.3" stroke="#333" stroke-width="0.8"/>
<text x="382.8" y="99.5" class="lab" text-anchor="middle">34</text>
<path d="M468.1,76.2 Q445.8,81.2 419,82.4 Q445.8,83.8 468.1,88.7 Z" fill="#0a3c78"/>
<rect x="467.80" y="76.2" width="48.70" height="12.5" fill="#1478dc"/>
<rect x="516.20" y="76.2" width="48.70" height="12.5" fill="#78b9fa"/>
<rect x="564.60" y="76.2" width="48.70" height="12.5" fill="#b4f0c8"/>
<rect x="613.00" y="76.2" width="48.70" height="12.5" fill="#f5b4b4"/>
<rect x="661.40" y="76.2" width="48.70" height="12.5" fill="#eb8c8c"/>
<rect x="709.80" y="76.2" width="48.70" height="12.5" fill="#dc1e1e"/>
<path d="M758.2,76.2 Q778.2,81.2 800,82.4 Q778.2,83.8 758.2,88.7 Z" fill="#8c1414"/>
<line x1="467.8" y1="88.7" x2="467.8" y2="90.3" stroke="#333" stroke-width="0.8"/>
<text x="466.3" y="101.2" class="lab" text-anchor="middle">-06</text>
<line x1="516.2" y1="88.7" x2="516.2" y2="90.3" stroke="#333" stroke-width="0.8"/>
<text x="514.7" y="101.2" class="lab" text-anchor="middle">-04</text>
<line x1="564.6" y1="88.7" x2="564.6" y2="90.3" stroke="#333" stroke-width="0.8"/>
<text x="563.1" y="101.2" class="lab" text-anchor="middle">-02</text>
<line x1="613.0" y1="88.7" x2="613.0" y2="90.3" stroke="#333" stroke-width="0.8"/>
<text x="611.3" y="101.2" class="lab" text-anchor="middle">0</text>
<line x1="661.4" y1="88.7" x2="661.4" y2="90.3" stroke="#333" stroke-width="0.8"/>
<text x="661.4" y="101.2" class="lab" text-anchor="middle">02</text>
<line x1="709.8" y1="88.7" x2="709.8" y2="90.3" stroke="#333" stroke-width="0.8"/>
<text x="709.8" y="101.2" class="lab" text-anchor="middle">04</text>
<line x1="758.2" y1="88.7" x2="758.2" y2="90.3" stroke="#333" stroke-width="0.8"/>
<text x="755.7" y="101.2" class="lab" text-anchor="middle">06</text>
<text x="41.2" y="28" class="t1" textLength="323.6" lengthAdjust="spacingAndGlyphs">INDIA METEOROLOGICAL DEPARTMENT</text>
<text x="18.2" y="39.5" class="t2" textLength="376.6" lengthAdjust="spacingAndGlyphs">NUMERICAL WEATHER PREDICTION DIVISION, NEW DELHI</text>
<text x="149.0" y="51.2" class="t3" textLength="103.4" lengthAdjust="spacingAndGlyphs">STATE: RAJASTHAN</text>
<text x="128.0" y="69.5" class="t3" textLength="155.5" lengthAdjust="spacingAndGlyphs">MINIMUM TEMPERATURE (C)</text>
<text x="13.6" y="117.2" class="t4" textLength="216.7" lengthAdjust="spacingAndGlyphs">PERIOD: WEEK-1 (09-01-2026 To 15-01-2026)</text>
<text x="445.6" y="28" class="t1" textLength="323.6" lengthAdjust="spacingAndGlyphs">INDIA METEOROLOGICAL DEPARTMENT</text>
<text x="422.6" y="39.5" class="t2" textLength="376.6" lengthAdjust="spacingAndGlyphs">NUMERICAL WEATHER PREDICTION DIVISION, NEW DELHI</text>
<text x="553.4" y="51.2" class="t3" textLength="103.4" lengthAdjust="spacingAndGlyphs">STATE: RAJASTHAN</text>
<text x="533.7" y="69.5" class="t3" textLength="154.8" lengthAdjust="spacingAndGlyphs">TEMPERATURE ANOMALY (C)</text>
<text x="418.0" y="117.2" class="t4" textLength="216.7" lengthAdjust="spacingAndGlyphs">PERIOD: WEEK-1 (09-01-2026 To 15-01-2026)</text>
</g>
</svg>
</body></html>
